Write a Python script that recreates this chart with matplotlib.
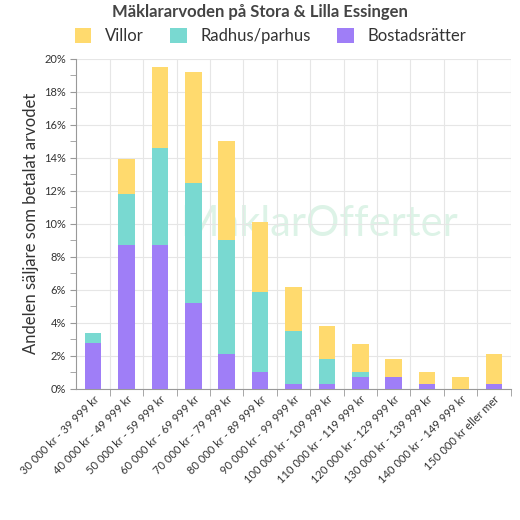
import matplotlib
matplotlib.use("Agg")
import matplotlib.pyplot as plt
import numpy as np

plt.rcParams['font.family'] = ['Lato', 'DejaVu Sans']

categories = ["30 000 kr - 39 999 kr", "40 000 kr - 49 999 kr", "50 000 kr - 59 999 kr",
              "60 000 kr - 69 999 kr", "70 000 kr - 79 999 kr", "80 000 kr - 89 999 kr",
              "90 000 kr - 99 999 kr", "100 000 kr - 109 999 kr", "110 000 kr - 119 999 kr",
              "120 000 kr - 129 999 kr", "130 000 kr - 139 999 kr", "140 000 kr - 149 999 kr",
              "150 000 kr eller mer"]
bostadsratter = [2.8, 8.7, 8.7, 5.2, 2.1, 1.0, 0.3, 0.3, 0.7, 0.7, 0.3, 0.0, 0.3]
radhus = [0.6, 3.1, 5.9, 7.3, 6.9, 4.9, 3.2, 1.5, 0.3, 0.0, 0.0, 0.0, 0.0]
villor = [0.0, 2.1, 4.9, 6.7, 6.0, 4.2, 2.7, 2.0, 1.7, 1.1, 0.7, 0.7, 1.8]

c_b = "#9f7ef7"
c_r = "#79d9d1"
c_v = "#ffda6e"

fig = plt.figure(figsize=(5.2, 5.2), dpi=100)
ax = fig.add_axes([0.147, 0.252, 0.835, 0.635])
x = np.arange(len(categories))
b = np.array(bostadsratter)
r = np.array(radhus)
v = np.array(villor)
ax.bar(x, b, 0.5, color=c_b, label="Bostadsrätter", zorder=3)
ax.bar(x, r, 0.5, bottom=b, color=c_r, label="Radhus/parhus", zorder=3)
ax.bar(x, v, 0.5, bottom=b + r, color=c_v, label="Villor", zorder=3)

ax.set_xlim(-0.5, len(categories) - 0.5)
ax.set_ylim(0, 20)
ax.set_yticks(range(0, 21, 2))
ax.set_yticklabels([f"{t}%" for t in range(0, 21, 2)], fontsize=8, color="#333333")
ax.set_yticks(range(1, 20, 2), minor=True)
ax.set_xticks(x)
ax.set_xticklabels(categories, rotation=45, ha="right", rotation_mode="anchor", fontsize=8, color="#333333")
ax.set_xticks(x + 0.5, minor=True)
ax.tick_params(axis="x", which="major", length=0)
ax.tick_params(axis="x", which="minor", length=5, color="#999999")
ax.tick_params(axis="y", which="both", length=4, color="#999999")
ax.grid(axis="y", color="#e6e6e6", linewidth=0.8, zorder=0)
ax.grid(axis="x", which="minor", color="#e6e6e6", linewidth=0.8, zorder=0)
for s in ["top", "right"]:
    ax.spines[s].set_visible(False)
for s in ["left", "bottom"]:
    ax.spines[s].set_color("#999999")
ax.set_ylabel("Andelen säljare som betalat arvodet", fontsize=12, color="#333333")

ax.text(0.56, 0.5, "MäklarOfferter", transform=ax.transAxes, fontsize=30,
        color="#cfeedd", alpha=0.7, ha="center", va="center", zorder=1)

fig.text(0.5, 0.977, "Mäklararvoden på Stora & Lilla Essingen", ha="center", va="center",
         fontsize=12, fontweight="bold", color="#444444")
h, l = ax.get_legend_handles_labels()
fig.legend(h[::-1], l[::-1], loc="center", bbox_to_anchor=(0.52, 0.93), ncol=3, frameon=False,
           fontsize=12, handlelength=1.0, handleheight=1.0, columnspacing=1.6, labelcolor="#333333")

fig.savefig("out.png", dpi=100)
